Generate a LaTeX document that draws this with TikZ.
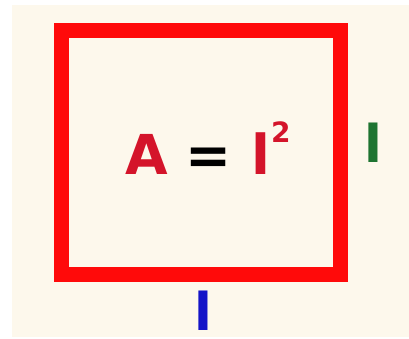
\documentclass[tikz,border=0pt]{standalone}
\usepackage{fontspec}
\setmainfont{DejaVu Sans}
\usepackage{tikz}
\usetikzlibrary{positioning}
\definecolor{sqRed}{HTML}{FF0A0A}
\definecolor{txtRed}{HTML}{D4142A}
\definecolor{sideGreen}{HTML}{1E7431}
\definecolor{sideBlue}{HTML}{1414C8}
\definecolor{paperBg}{HTML}{FDF8EC}

\begin{document}
\begin{tikzpicture}[
  x=1pt, y=-1pt,
  lbl/.style={inner sep=0pt, anchor=base, font=\bfseries\fontsize{52}{52}\selectfont},
  sq/.style={draw=sqRed, line width=15pt, minimum width=279pt, minimum height=243pt, inner sep=0pt}
]
% page and paper
\useasboundingbox (0,0) rectangle (409,339);
\fill[white] (0,0) rectangle (409,339);
\fill[paperBg] (12,5) rectangle (409,337);

% the square
\node[sq] (square) at (200.5,152.5) {};

% formula
\node[lbl, anchor=base west, font=\bfseries\fontsize{55}{55}\selectfont] (area) at (125,175)
  {\textcolor{txtRed}{A}\hspace{-1pt} = \textcolor{txtRed}{l\hspace{1pt}\raisebox{32pt}{\fontsize{28}{28}\selectfont 2}}};

% side labels
\node[lbl, text=sideGreen] (sideR) at (373,163) {l};
\node[lbl, text=sideBlue] (sideB) at (203,330) {l};
\end{tikzpicture}
\end{document}
